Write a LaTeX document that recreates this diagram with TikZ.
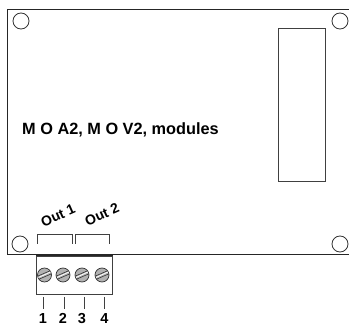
\documentclass[tikz,border=0pt]{standalone}
\usepackage{fontspec}
\setmainfont{Liberation Sans}
\tikzset{
  edge/.style={draw=black!85,line width=1pt},
  thin edge/.style={draw=black!75,line width=0.9pt},
  hole/.style={circle,draw=black!80,line width=0.8pt,minimum size=16pt,inner sep=0pt},
  screwhead/.style={circle,draw=black!80,fill=black!30,line width=0.7pt,minimum size=14pt,inner sep=0pt},
  lab/.style={font=\bfseries\fontsize{14.5}{16}\selectfont,inner sep=0pt,text=black},
  titlelab/.style={font=\bfseries\fontsize{16.3}{18}\selectfont,inner sep=0pt,text=black},
  outlab/.style={font=\bfseries\fontsize{14}{16}\selectfont,inner sep=0pt,rotate=24,text=black},
}
\begin{document}
\begin{tikzpicture}[x=1pt,y=-1pt]
\useasboundingbox (0,0) rectangle (349,329);
% board outline
\draw[edge] (349,9.5) -- (7.5,9.5) -- (7.5,254.5) -- (349,254.5);
% mounting holes
\node[hole] (h1) at (21,21) {};
\node[hole] (h2) at (340,21) {};
\node[hole] (h3) at (20,244) {};
\node[hole] (h4) at (340,244) {};
% relay block
\draw[thin edge] (278.5,28.5) rectangle (325.5,181);
% title
\node[titlelab,anchor=west] (title) at (22,130) {M O A2, M O V2, modules};
% brackets
\draw[thin edge] (37.5,244) -- (37.5,234) -- (72,234) -- (72,244);
\draw[thin edge] (75,244) -- (75,234) -- (109.5,234) -- (109.5,244);
\node[outlab] (o1) at (58,215.5) {Out 1};
\node[outlab] (o2) at (102,214.5) {Out 2};
% terminal block
\draw[thin edge] (36,256) rectangle (112.5,294.5);
\draw[edge,line width=1.3pt] (36,255.5) -- (112.5,255.5);
\foreach \n/\x in {1/44.5,2/63,3/82,4/102}{
  \node[screwhead] (s\n) at (\x,275) {};
  \draw[white,line width=0.8pt] (\x-6,277.5) -- (\x+6,272);
  \draw[black!80,line width=0.6pt] (\x-6.5,276) -- (\x+5.5,270.8);
  \draw[black!80,line width=0.6pt] (\x-5.5,279.2) -- (\x+6.5,274);
}
\foreach \n/\x/\lx in {1/43/43,2/64.5/63,3/84/82,4/104/104.5}{
  \coordinate (ta\n) at (\x,297);
  \coordinate (tb\n) at (\x,309);
  \draw[thin edge] (ta\n) -- (tb\n);
  \node[lab,anchor=base] (n\n) at (\lx,324) {\n};
}
\end{tikzpicture}
\end{document}
